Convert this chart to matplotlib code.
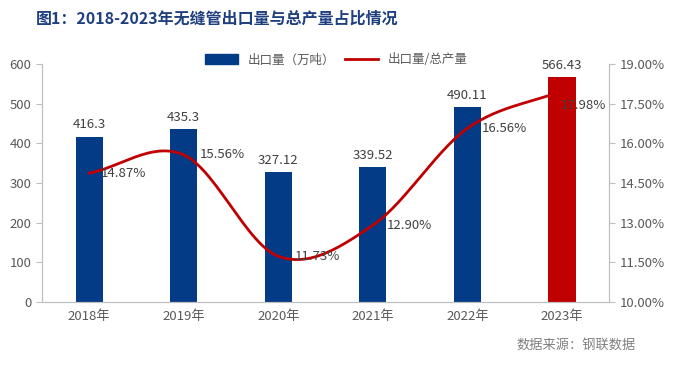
import numpy as np
import matplotlib.pyplot as plt
from matplotlib.patches import Patch
from matplotlib.lines import Line2D

plt.rcParams['font.family'] = ['Noto Sans CJK SC', 'DejaVu Sans']

years = ['2018年', '2019年', '2020年', '2021年', '2022年', '2023年']
export_vol = [416.3, 435.3, 327.12, 339.52, 490.11, 566.43]
export_share = [14.87, 15.56, 11.73, 12.90, 16.56, 17.98]
bar_labels = ['416.3', '435.3', '327.12', '339.52', '490.11', '566.43']
share_labels = ['14.87%', '15.56%', '11.73%', '12.90%', '16.56%', '17.98%']

blue = '#033B87'
red = '#C00000'
grey_txt = '#595959'
spine_c = '#BFBFBF'


def smooth(x, y, n=30):
    # catmull-rom through the real points, only for drawing the curve
    x = np.asarray(x, float)
    y = np.asarray(y, float)
    px = np.concatenate([[2 * x[0] - x[1]], x, [2 * x[-1] - x[-2]]])
    py = np.concatenate([[2 * y[0] - y[1]], y, [2 * y[-1] - y[-2]]])
    xs, ys = [], []
    for i in range(1, len(px) - 2):
        t = np.linspace(0, 1, n)
        for p, out in ((px, xs), (py, ys)):
            p0, p1, p2, p3 = p[i - 1], p[i], p[i + 1], p[i + 2]
            out.extend(0.5 * ((2 * p1) + (-p0 + p2) * t
                              + (2 * p0 - 5 * p1 + 4 * p2 - p3) * t ** 2
                              + (-p0 + 3 * p1 - 3 * p2 + p3) * t ** 3))
    return np.array(xs), np.array(ys)


fig = plt.figure(figsize=(6.73, 3.67), dpi=100)
ax = fig.add_axes([0.0624, 0.177, 0.8426, 0.649])
x = np.arange(len(years))
colors = [blue] * (len(years) - 1) + [red]
ax.bar(x, export_vol, width=0.29, color=colors, zorder=2)
for xi, v, lab in zip(x, export_vol, bar_labels):
    ax.text(xi, v + 14, lab, ha='center', va='bottom', fontsize=9.5, color='#404040')

ax.set_ylim(0, 600)
ax.set_yticks(range(0, 601, 100))
ax.set_xlim(-0.5, len(years) - 0.5)
ax.set_xticks(x)
ax.set_xticklabels(years)
ax.spines['top'].set_visible(False)
for s in ['left', 'right', 'bottom']:
    ax.spines[s].set_color(spine_c)
ax.tick_params(axis='y', colors=grey_txt, labelsize=9.5, length=4, color=spine_c)
ax.tick_params(axis='x', colors=grey_txt, labelsize=9.5, length=0, pad=6)

ax2 = ax.twinx()
sx, sy = smooth(x, export_share)
ax2.plot(sx, sy, color=red, lw=2, zorder=3)
lab_dx = [0.12, 0.17, 0.17, 0.15, 0.15, -0.01]
lab_dy = [0, 0, 0, 0, 0, -0.55]
for xi, v, lab, dx, dy in zip(x, export_share, share_labels, lab_dx, lab_dy):
    ax2.text(xi + dx, v + dy, lab, ha='left', va='center', fontsize=9.5, color='#404040', zorder=4)
ax2.set_ylim(10, 19)
ax2.set_yticks(np.arange(10, 19.01, 1.5))
ax2.set_yticklabels([f'{t:.2f}%' for t in np.arange(10, 19.01, 1.5)])
ax2.spines['top'].set_visible(False)
for s in ['left', 'right', 'bottom']:
    ax2.spines[s].set_color(spine_c)
ax2.tick_params(axis='y', colors=grey_txt, labelsize=9.5, length=4, color=spine_c)

handles = [Patch(color=blue), Line2D([0], [0], color=red, lw=2)]
fig.legend(handles, ['出口量（万吨）', '出口量/总产量'], loc='center',
           bbox_to_anchor=(0.5, 0.837), ncol=2, frameon=False, fontsize=9,
           handlelength=2.6, handleheight=0.8, columnspacing=0.8,
           labelcolor=grey_txt)

fig.text(0.053, 0.948, '图1：2018-2023年无缝管出口量与总产量占比情况', fontsize=11.5,
         fontweight='bold', color='#1F3F7F', va='center')
fig.text(0.944, 0.058, '数据来源：钢联数据', fontsize=9.5, color='#808080', ha='right', va='center')

fig.savefig('out.png', dpi=100)
